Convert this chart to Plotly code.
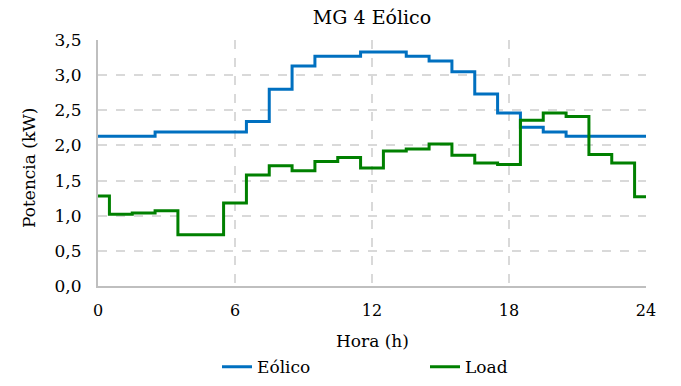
import plotly.graph_objects as go

hours = list(range(25))
eolico = [2.13, 2.13, 2.13, 2.19, 2.19, 2.19, 2.19, 2.34, 2.80, 3.13, 3.27, 3.27, 3.33,
          3.33, 3.27, 3.20, 3.05, 2.73, 2.46, 2.26, 2.19, 2.13, 2.13, 2.13, 2.13]
load = [1.28, 1.02, 1.04, 1.07, 0.73, 0.73, 1.18, 1.58, 1.71, 1.64, 1.77, 1.83, 1.68,
        1.92, 1.95, 2.02, 1.86, 1.75, 1.73, 2.36, 2.46, 2.41, 1.87, 1.75, 1.27]
x_ticks = [0, 6, 12, 18, 24]
y_ticks = [0, 0.5, 1.0, 1.5, 2.0, 2.5, 3.0, 3.5]

FONT = "DejaVu Serif"

fig = go.Figure()
fig.add_trace(go.Scatter(x=hours, y=eolico, name="Eólico", mode="lines",
                         line=dict(color="#0070C0", width=3, shape="hvh")))
fig.add_trace(go.Scatter(x=hours, y=load, name="Load", mode="lines",
                         line=dict(color="#008000", width=3, shape="hvh")))

fig.update_layout(
    width=681, height=386,
    margin=dict(l=98, r=35, t=40, b=100, autoexpand=False),
    paper_bgcolor="white", plot_bgcolor="white",
    separators=", ",
    font=dict(family=FONT, size=16, color="#000000"),
    title=dict(text="MG 4 Eólico", x=0.5, xanchor="center", xref="paper",
               y=(386 - 17) / 386, yref="container", yanchor="middle",
               font=dict(family=FONT, size=19, color="#000000")),
    showlegend=True,
    legend=dict(orientation="h", x=217 / 681, xanchor="left", xref="container",
                y=-0.33, yanchor="middle",
                font=dict(family=FONT, size=17), entrywidth=163, entrywidthmode="pixels",
                bgcolor="rgba(0,0,0,0)"),
    annotations=[
        dict(text="Potencia (kW)", xref="paper", yref="paper",
             x=(29 - 98) / 548, y=(286 - 168) / 246, xanchor="center", yanchor="middle",
             textangle=-90, showarrow=False, font=dict(family=FONT, size=17)),
        dict(text="Hora (h)", xref="paper", yref="paper",
             x=0.5, y=(286 - 341) / 246, xanchor="center", yanchor="middle",
             showarrow=False, font=dict(family=FONT, size=17)),
    ],
)
fig.update_xaxes(
    range=[0, 24], tickvals=x_ticks, ticktext=[str(v) for v in x_ticks],
    showgrid=True, gridcolor="#d9d9d9", griddash="dash", gridwidth=2,
    showline=True, linecolor="#bfbfbf", linewidth=2, zeroline=False,
    ticks="", ticklabelstandoff=9, tickfont=dict(family=FONT, size=16),
    automargin=False,
)
fig.update_yaxes(
    range=[0, 3.5], tickvals=y_ticks, tickformat=".1f",
    showgrid=True, gridcolor="#d9d9d9", griddash="dash", gridwidth=2,
    showline=True, linecolor="#bfbfbf", linewidth=2, zeroline=False,
    ticks="", ticklabelstandoff=11, tickfont=dict(family=FONT, size=17),
    automargin=False,
)

fig.write_html("out.html", config={"displayModeBar": False},
               post_script="document.body.style.margin='0';")
